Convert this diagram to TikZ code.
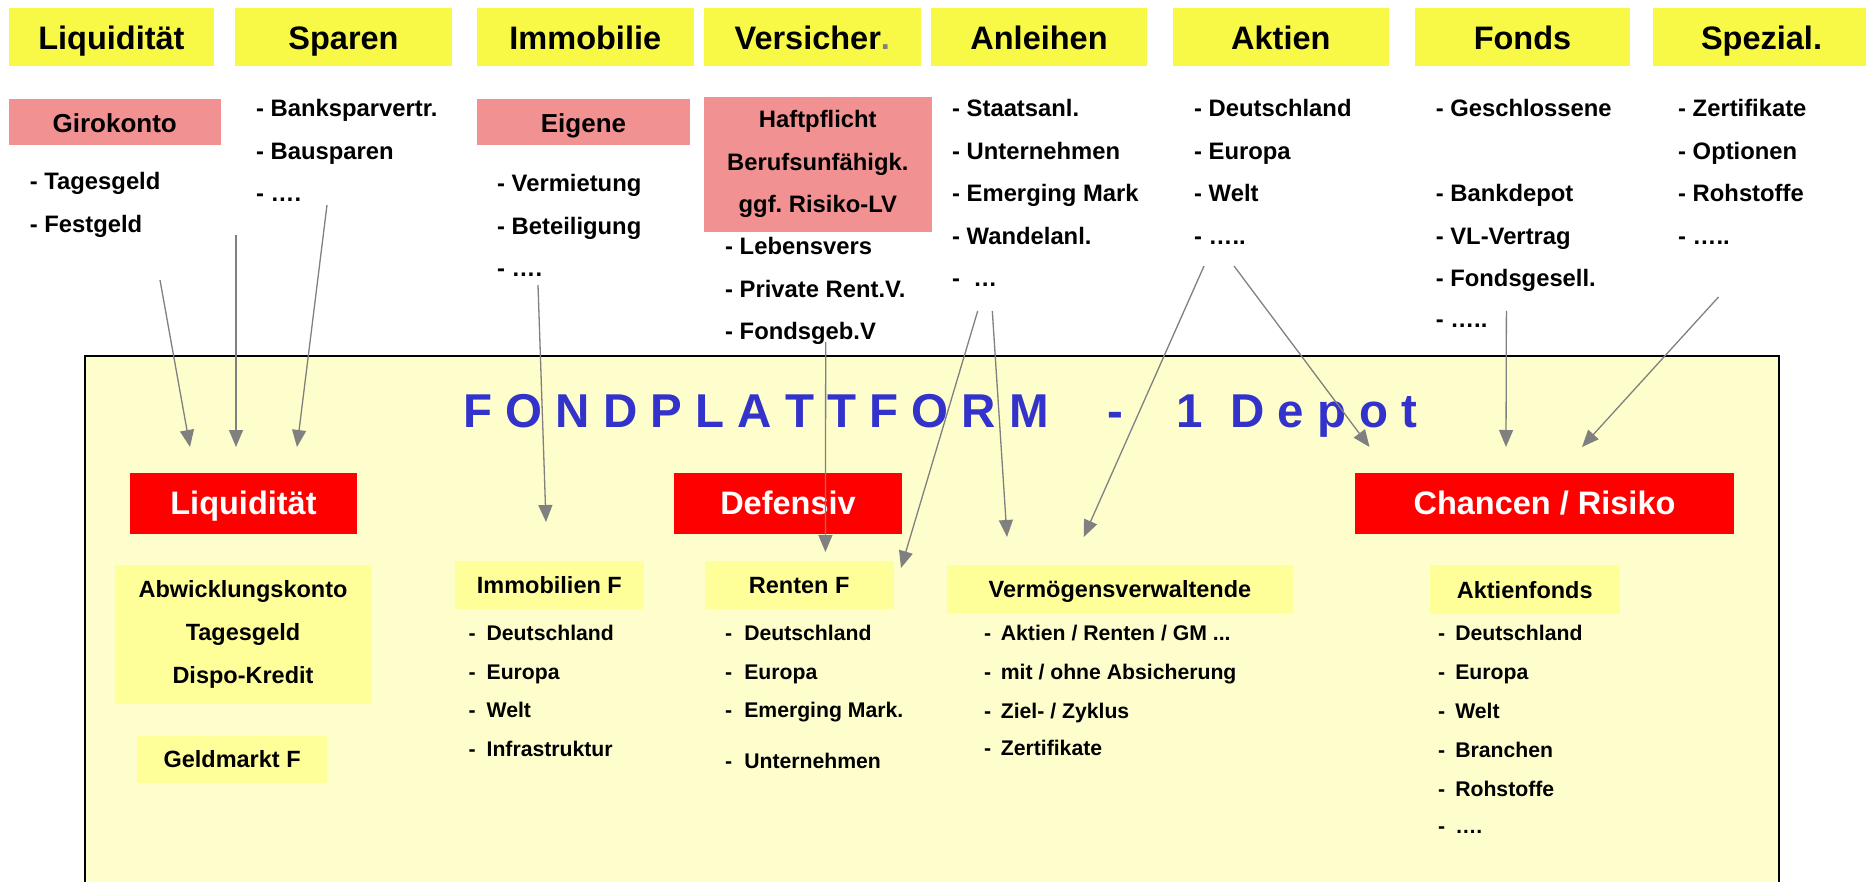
\documentclass[tikz,border=0pt]{standalone}
\usepackage{fontspec}
\setmainfont{Liberation Sans}
\usetikzlibrary{arrows.meta}
\definecolor{kopfgelb}{RGB}{248,248,70}
\definecolor{rosarot}{RGB}{242,145,145}
\definecolor{plattgelb}{RGB}{254,254,204}
\definecolor{hellgelb}{RGB}{255,255,153}
\definecolor{titelblau}{RGB}{51,51,204}
\definecolor{pfeilgrau}{RGB}{128,128,128}
\frenchspacing
\tikzset{
  kopf/.style={fill=kopfgelb, minimum height=57.4pt, inner sep=0pt, text height=26pt, text depth=0pt, font=\bfseries\fontsize{32.5}{39}\selectfont},
  rosa/.style={fill=rosarot, inner sep=0pt, font=\bfseries\fontsize{23.8}{42.5}\selectfont},
  rotbox/.style={fill=red, text=white, minimum height=60.7pt, inner sep=0pt, text height=21.6pt, text depth=0pt, font=\bfseries\fontsize{32.5}{39}\selectfont},
  hellbox/.style={fill=hellgelb, inner sep=0pt, font=\bfseries\fontsize{23.5}{43}\selectfont},
  einzeilig/.style={text height=16.8pt, text depth=0pt},
  titel/.style={anchor=base west, inner sep=0pt, text=titelblau, font=\bfseries\fontsize{47.5}{57}\selectfont},
  punkt/.style={anchor=base west, inner sep=0pt, font=\bfseries\fontsize{23.8}{28}\selectfont},
  eintrag/.style={anchor=base west, inner sep=0pt, font=\bfseries\fontsize{21.2}{25}\selectfont},
  pfeil/.style={draw=pfeilgrau, line width=1.3pt, -{Triangle[length=17pt,width=14pt]}}
}
\begin{document}
\begin{tikzpicture}[x=1pt, y=-1pt]
		%%%%% RAHMEN %%%%%
		\useasboundingbox (0,0) rectangle (1866,882);
		\clip (0,0) rectangle (1866,882);
		
		\draw[line width=2pt, fill=plattgelb] (84.6,356) rectangle (1779,900);
		
		%%%%% KOPFZEILE %%%%%
		\node[kopf, minimum width=205.3pt] (kliq) at (111.4,37) {Liquidität};
		\node[kopf, minimum width=217pt] (kspar) at (343.5,37) {Sparen};
		\node[kopf, minimum width=216.5pt] (kimmo) at (585.3,37) {Immobilie};
		\node[kopf, minimum width=216.5pt] (kvers) at (812.3,37) {Versicher\textcolor{pfeilgrau}{.}};
		\node[kopf, minimum width=216pt] (kanl) at (1039,37) {Anleihen};
		\node[kopf, minimum width=215.5pt] (kakt) at (1280.8,37) {Aktien};
		\node[kopf, minimum width=215pt] (kfonds) at (1522.5,37) {Fonds};
		\node[kopf, minimum width=217pt] (kspez) at (1761.5,37) {Spezial.};
		
		\node[rosa, text height=22pt, text depth=0pt, minimum width=212pt, minimum height=46pt, font=\bfseries\fontsize{26}{31}\selectfont] (giro) at (114.7,122) {Girokonto};
		\node[rosa, text height=22pt, text depth=0pt, minimum width=213pt, minimum height=46pt, font=\bfseries\fontsize{26}{31}\selectfont] (eigen) at (583.5,122) {Eigene};
		\node[rosa, align=center, minimum width=227.6pt, minimum height=135.3pt] (versrosa) at (817.8,164.3) {Haftpflicht\\Berufsunfähigk.\\ggf. Risiko-LV};
		
		\foreach \y/\t [count=\i] in {190/- Tagesgeld, 233/- Festgeld}
			\node[punkt] (liq\i) at (29.7,\y) {\t};
		\foreach \y/\t [count=\i] in {117/- Banksparvertr., 160/- Bausparen, 202/- ….}
			\node[punkt] (spar\i) at (256,\y) {\t};
		\foreach \y/\t [count=\i] in {192/- Vermietung, 235/- Beteiligung, 277/- ….}
			\node[punkt] (immo\i) at (497,\y) {\t};
		\foreach \y/\t [count=\i] in {255/- Lebensvers, 298/- Private Rent.V., 340/- Fondsgeb.V}
			\node[punkt] (vers\i) at (725,\y) {\t};
		\foreach \y/\t [count=\i] in {117/- Staatsanl., 160/- Unternehmen, 202/- Emerging Mark, 245/- Wandelanl., 287/-~ …}
			\node[punkt] (anl\i) at (952,\y) {\t};
		\foreach \y/\t [count=\i] in {117/- Deutschland, 160/- Europa, 202/- Welt, 245/- …..}
			\node[punkt] (akt\i) at (1194,\y) {\t};
		\foreach \y/\t [count=\i] in {117/- Geschlossene, 202/- Bankdepot, 245/- VL-Vertrag, 287/- Fondsgesell., 328/- …..}
			\node[punkt] (fonds\i) at (1435.6,\y) {\t};
		\foreach \y/\t [count=\i] in {117/- Zertifikate, 160/- Optionen, 202/- Rohstoffe, 245/- …..}
			\node[punkt] (spez\i) at (1678,\y) {\t};
		
		%%%%% PLATTFORM %%%%%
		\node[titel] (titel) at (463,428) {F O N D P L A T T F O R M\hspace{58pt}-\hspace{54pt}1\hspace{27pt}D e p o t};
		
		\node[rotbox, minimum width=227pt] (rliq) at (243.5,503.4) {Liquidität};
		\node[rotbox, minimum width=228pt] (rdef) at (788,503.4) {Defensiv};
		\node[rotbox, minimum width=379pt] (rchanc) at (1544.5,503.4) {Chancen / Risiko};
		
		\node[hellbox, align=center, minimum width=257pt, minimum height=139pt] (abw) at (243,634.5) {Abwicklungskonto\\Tagesgeld\\Dispo-Kredit};
		\node[hellbox, einzeilig, minimum width=189.4pt, minimum height=47.3pt] (geld) at (232.1,759.4) {Geldmarkt F};
		\node[hellbox, einzeilig, minimum width=188.7pt, minimum height=48pt] (immof) at (549.35,585) {Immobilien F};
		\node[hellbox, einzeilig, minimum width=188.6pt, minimum height=48pt] (rentf) at (799.2,585) {Renten F};
		\node[hellbox, einzeilig, minimum width=346.6pt, minimum height=48pt] (vv) at (1120,589) {Vermögensverwaltende};
		\node[hellbox, einzeilig, minimum width=190.5pt, minimum height=48.6pt] (aktf) at (1524.75,589.7) {Aktienfonds};
		
		\foreach \y/\t [count=\i] in {640/Deutschland, 679/Europa, 717/Welt, 756/Infrastruktur}
			\node[eintrag] (immof\i) at (468.4,\y) {-\hspace{11pt}\t};
		\foreach \y/\t [count=\i] in {640/Deutschland, 679/Europa, 717/Emerging Mark., 768/Unternehmen}
			\node[eintrag] (rentf\i) at (725,\y) {-\hspace{12pt}\t};
		\foreach \y/\t [count=\i] in {640/{Aktien / Renten / GM ...}, 679/{mit / ohne Absicherung}, 718/{Ziel- / Zyklus}, 755/Zertifikate}
			\node[eintrag] (vv\i) at (984,\y) {-\hspace{9.6pt}\t};
		\foreach \y/\t [count=\i] in {640/Deutschland, 679/Europa, 718/Welt, 757/Branchen, 796/Rohstoffe, 833/….}
			\node[eintrag] (aktf\i) at (1438,\y) {-\hspace{10pt}\t};
		
		%%%%% PFEILE %%%%%
		\foreach \a/\b/\c/\d [count=\i] in {160/280/190/447, 236/235/236/447, 327/205/297/447, 538/285/546/522,
				825.7/342/825.4/552, 977.7/311/901/568, 992.3/311/1007/537, 1204/266/1083.7/537,
				1234/266/1369.5/447, 1506.4/311/1506/447, 1718.5/297/1582/447}{
			\coordinate (von\i) at (\a,\b);
			\coordinate (nach\i) at (\c,\d);
			\draw[pfeil] (von\i) -- (nach\i);
		}
		
		%%%%% ENDE %%%%%
	\end{tikzpicture}
\end{document}
